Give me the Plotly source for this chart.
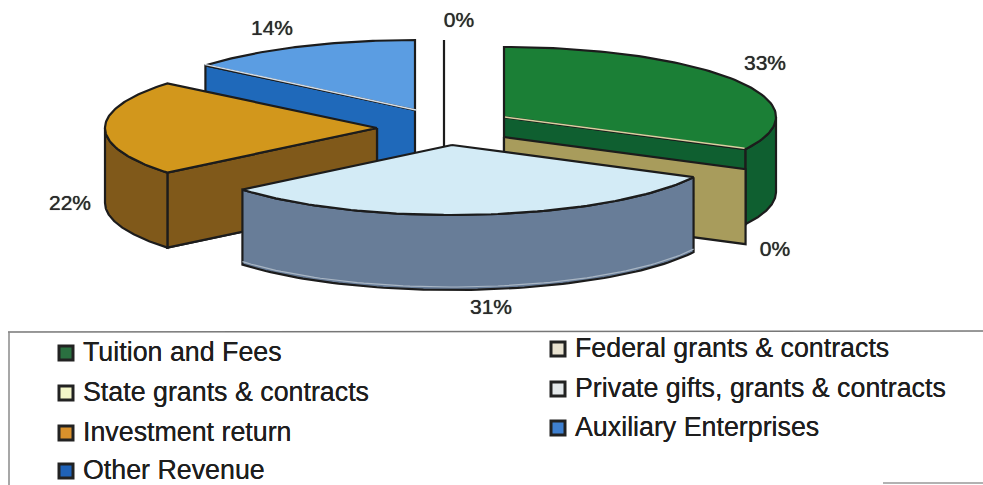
import numpy as np
import plotly.graph_objects as go

categories = ["Tuition and Fees", "Federal grants & contracts", "State grants & contracts",
              "Private gifts, grants & contracts", "Investment return",
              "Auxiliary Enterprises", "Other Revenue"]
shares = [32.6, 0.0, 31.4, 0.0, 22.0, 14.0, 0.0]
pct_labels = ["33%", "0%", "31%", "", "22%", "14%", "0%"]

top_colors = ["#1b7f36", "#a89c5c", "#d3ebf6", "#d8e0e0", "#d2971c", "#5b9de2", "#222222"]
wall_colors = ["#0f5f30", "#a89c5c", "#687d98", "#d8e0e0", "#80591a", "#1f69ba", "#222222"]
legend_fill = ["#2a7040", "#e8e2d0", "#f2f5c8", "#e4e8ea", "#d9912c", "#3f80d0", "#1f62b8"]
edge_light = ["#d8d2a0", None, None, None, None, "#d5dde5", None]

# Layout only
CX, CY, RX, RY, DEPTH = 444, 110, 272, 70, 75
pull = [(60, 7), (60, 27), (8, 35), (-67, 18), (-67, 18), (-29, 0), (0, 0)]
draw_order = [6, 5, 0, 1, 3, 4, 2]
label_pos = [(765, 65), (775, 251), (491, 309), None, (70, 205), (272, 30), (459, 22)]
legend_pos = [(58, 353), (550, 349), (58, 393), (550, 389), (58, 433), (550, 428), (58, 471)]
INK = "#1c1c1c"

ends = np.cumsum(shares) * 3.6
starts = ends - np.array(shares) * 3.6

fig = go.Figure()


def ring(ax, ay, a0, a1, n=80):
    t = np.radians(np.linspace(a0, a1, n))
    return ax + RX * np.sin(t), ay - RY * np.cos(t)


def poly(x, y, fill, width=2.2, color=INK):
    fig.add_trace(go.Scatter(x=np.r_[x, x[0]], y=np.r_[y, y[0]], mode="lines", fill="toself",
                             fillcolor=fill, line=dict(color=color, width=width),
                             hoverinfo="skip", showlegend=False))


def stroke(x, y, color, width=1.5):
    fig.add_trace(go.Scatter(x=x, y=y, mode="lines", line=dict(color=color, width=width),
                             hoverinfo="skip", showlegend=False))


def radial_wall(ax, ay, a, fill):
    px, py = ring(ax, ay, a, a, 1)
    poly(np.array([ax, px[0], px[0], ax]), np.array([ay, py[0], py[0] + DEPTH, ay + DEPTH]), fill)


for i in draw_order:
    ax, ay = CX + pull[i][0], CY + pull[i][1]
    a0, a1 = starts[i], ends[i]
    if a1 > a0:
        if np.sin(np.radians(a1)) > 1e-6:
            radial_wall(ax, ay, a1, wall_colors[i])
        if np.sin(np.radians(a0)) < -1e-6:
            radial_wall(ax, ay, a0, wall_colors[i])
        lo, hi = max(a0, 90), min(a1, 270)
        if hi > lo:
            x, y = ring(ax, ay, lo, hi)
            poly(np.r_[x, x[::-1]], np.r_[y, y[::-1] + DEPTH], wall_colors[i])
            if i == 2:  # pale inner edge along the rim's lower border
                stroke(x, y + DEPTH - 3, "#a9b6c4", 1.2)
        x, y = ring(ax, ay, a0, a1)
        poly(np.r_[ax, x], np.r_[ay, y], top_colors[i])
        if edge_light[i]:
            a = a1 if np.sin(np.radians(a1)) > 1e-6 else a0
            px, py = ring(ax, ay, a, a, 1)
            stroke([ax + 1, px[0] - 1], [ay, py[0] - 1], edge_light[i])
    else:
        radial_wall(ax, ay, a1, wall_colors[i])

# percentage labels
for txt, pos in zip(pct_labels, label_pos):
    if pos:
        fig.add_trace(go.Scatter(x=[pos[0]], y=[pos[1]], mode="text", text=[txt],
                                 textposition="middle center", hoverinfo="skip", showlegend=False,
                                 textfont=dict(family="Liberation Sans", size=21, color="#2a2a2a",
                                               shadow="0 0 0.7px #2a2a2a")))

# legend box
fig.add_shape(type="line", x0=8, x1=983, y0=332, y1=331, line=dict(color="#777777", width=1.5))
fig.add_shape(type="line", x0=9, x1=9, y0=332, y1=485, line=dict(color="#8a8a8a", width=1.5))
fig.add_shape(type="line", x0=883, x1=983, y0=483, y1=483, line=dict(color="#999999", width=1.5))

# legend entries
for name, fill, pos in zip(categories, legend_fill, legend_pos):
    fig.add_trace(go.Scatter(x=[pos[0] + 8], y=[pos[1]], mode="markers", hoverinfo="skip", showlegend=False,
                             marker=dict(symbol="square", size=14, color=fill,
                                         line=dict(color="#222222", width=3))))
    fig.add_annotation(x=pos[0] + 23, y=pos[1] - 1, text=name, showarrow=False, xanchor="left", yanchor="middle",
                       font=dict(family="Liberation Sans", size=26.8, color="#1e1e1e",
                                 shadow="0 0 0.6px #1e1e1e"))

fig.update_layout(width=983, height=485, margin=dict(l=0, r=0, t=0, b=0), autosize=False,
                  paper_bgcolor="white", plot_bgcolor="white", hovermode=False,
                  xaxis=dict(range=[0, 983], visible=False, fixedrange=True),
                  yaxis=dict(range=[485, 0], visible=False, fixedrange=True))
fig.write_html("out.html", config={"displayModeBar": False},
               post_script="document.body.style.margin='0';document.body.style.overflow='hidden';")
